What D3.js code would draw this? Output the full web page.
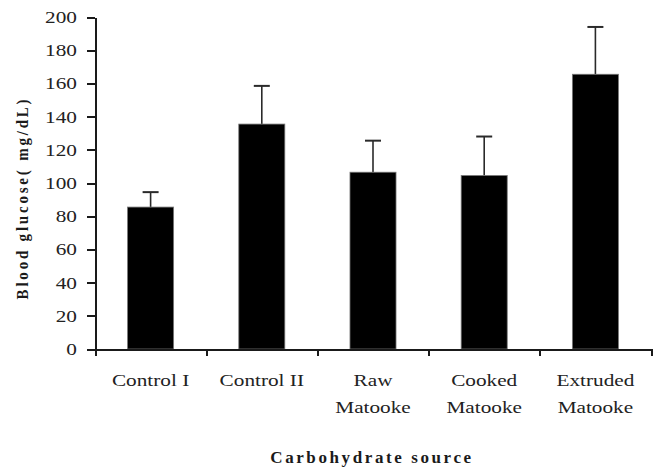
<!DOCTYPE html>
<html>
<head>
<meta charset="utf-8">
<script src="https://cdn.jsdelivr.net/npm/d3@7"></script>
<style>
    body { margin: 0; background: #fff; }
    svg { display: block; }
    .axis path, .axis line { stroke: #1a1a1a; stroke-width: 2px; shape-rendering: crispEdges; }
    .axis text, .cat-label { font-family: "Liberation Serif", "Times New Roman", serif; font-size: 17px; fill: #222; }
    .title { font-family: "Liberation Serif", "Times New Roman", serif; font-weight: bold; fill: #1a1a1a; }
</style>
</head>
<body>
<div id="chart"></div>
<script>
// data
var categories = ["Control I", "Control II", "Raw\nMatooke", "Cooked\nMatooke", "Extruded\nMatooke"];
var glucoseMean = [85.5, 135.5, 106.5, 104.5, 165.5];
var glucoseErr = [9, 23, 19, 23.5, 28.5];
var yTicks = [0, 20, 40, 60, 80, 100, 120, 140, 160, 180, 200];

var width = 660, height = 467,
    margin = {top: 17, left: 95, bottom: 118, right: 9};

var svg = d3.select("#chart").append("svg")
    .attr("width", width)
    .attr("height", height);

var x = d3.scaleBand()
    .domain(categories)
    .range([margin.left, width - margin.right])
    .paddingInner(0.586)
    .paddingOuter(0.293);

// category boundaries for the tick marks
var xEdge = d3.scaleLinear()
    .domain([0, categories.length])
    .range([margin.left, width - margin.right]);

var y = d3.scaleLinear()
    .domain([0, 200])
    .range([height - margin.bottom, margin.top]);

var data = categories.map(function (c, i) {
    return {cat: c, mean: glucoseMean[i], err: glucoseErr[i]};
});

// error bars (drawn under the bars)
var eb = svg.append("g").attr("class", "errorbars");
eb.selectAll("line.stem")
    .data(data)
    .enter().append("line")
    .attr("class", "stem")
    .attr("x1", function (d) { return x(d.cat) + x.bandwidth() / 2; })
    .attr("x2", function (d) { return x(d.cat) + x.bandwidth() / 2; })
    .attr("y1", function (d) { return y(d.mean); })
    .attr("y2", function (d) { return y(d.mean + d.err); })
    .attr("stroke", "#2a2a2a")
    .attr("stroke-width", 1.6);

eb.selectAll("line.cap")
    .data(data)
    .enter().append("line")
    .attr("class", "cap")
    .attr("x1", function (d) { return x(d.cat) + x.bandwidth() / 2 - 8; })
    .attr("x2", function (d) { return x(d.cat) + x.bandwidth() / 2 + 8; })
    .attr("y1", function (d) { return y(d.mean + d.err); })
    .attr("y2", function (d) { return y(d.mean + d.err); })
    .attr("stroke", "#2a2a2a")
    .attr("stroke-width", 2);

// bars
svg.append("g").selectAll("rect")
    .data(data)
    .enter().append("rect")
    .attr("x", function (d) { return x(d.cat); })
    .attr("y", function (d) { return y(d.mean); })
    .attr("width", x.bandwidth())
    .attr("height", function (d) { return y(0) - y(d.mean); })
    .attr("fill", "#000")
    .attr("stroke", "#777")
    .attr("stroke-width", 0.8);

// y axis
var yAxis = d3.axisLeft(y)
    .tickValues(yTicks)
    .tickSize(8)
    .tickSizeOuter(0)
    .tickPadding(6.5);

var gy = svg.append("g")
    .attr("class", "y axis")
    .attr("transform", "translate(" + margin.left + ",0)")
    .call(yAxis);
gy.selectAll("text").attr("transform", "scale(1.25,1)");

// x axis: ticks between categories
var xAxis = d3.axisBottom(xEdge)
    .tickValues(d3.range(categories.length + 1))
    .tickFormat("")
    .tickSize(7)
    .tickSizeOuter(0);

svg.append("g")
    .attr("class", "x axis")
    .attr("transform", "translate(0," + y(0) + ")")
    .call(xAxis);

// category labels
var lbl = svg.append("g").selectAll("g")
    .data(categories)
    .enter().append("g")
    .attr("transform", function (d) {
        return "translate(" + (x(d) + x.bandwidth() / 2) + "," + (y(0) + 37) + ")";
    })
    .append("text")
    .attr("class", "cat-label")
    .attr("text-anchor", "middle")
    .attr("transform", "scale(1.25,1)");

lbl.selectAll("tspan")
    .data(function (d) { return d.split("\n"); })
    .enter().append("tspan")
    .attr("x", 0)
    .attr("dy", function (d, i) { return i ? 27 : 0; })
    .text(function (d) { return d; });

// axis titles
svg.append("text")
    .attr("class", "title")
    .attr("x", 372)
    .attr("y", 463)
    .attr("text-anchor", "middle")
    .style("font-size", "17px")
    .style("letter-spacing", "2.6px")
    .text("Carbohydrate source");

svg.append("text")
    .attr("class", "title")
    .attr("transform", "translate(28,198) rotate(-90) scale(1,1.1)")
    .attr("text-anchor", "middle")
    .style("font-size", "15px")
    .style("letter-spacing", "2.8px")
    .text("Blood glucose( mg/dL)");
</script>
</body>
</html>
